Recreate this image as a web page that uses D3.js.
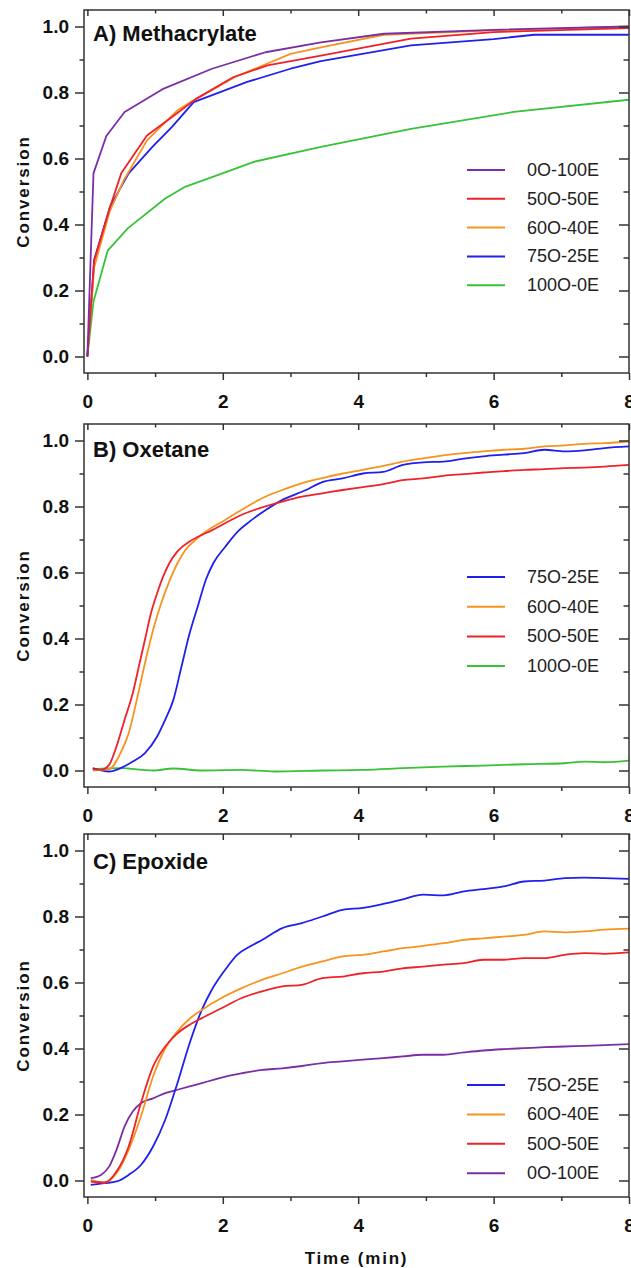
<!DOCTYPE html>
<html>
<head>
<meta charset="utf-8">
<script src="https://cdn.jsdelivr.net/npm/d3@7"></script>
<style>
  html, body { margin: 0; padding: 0; background: #fff; }
  svg { display: block; }
  text { font-family: "Liberation Sans", Arial, sans-serif; }
</style>
</head>
<body>
<svg id="chart" width="631" height="1268"></svg>
<script>
// ---- Data: conversion vs. time (min) ----
const xTickValues = [0, 1, 2, 3, 4, 5, 6, 7, 8];
const xTickLabels = ["0", "", "2", "", "4", "", "6", "", "8"];
const yTickValues = [0, 0.1, 0.2, 0.3, 0.4, 0.5, 0.6, 0.7, 0.8, 0.9, 1.0];
const yTickLabels = ["0.0", "", "0.2", "", "0.4", "", "0.6", "", "0.8", "", "1.0"];

// A) Methacrylate
const methSeriesNames = ["0O-100E", "50O-50E", "60O-40E", "75O-25E", "100O-0E"];
const meth0O100E = [[0,0],[0.09,0.555],[0.28,0.668],[0.55,0.741],[1.11,0.81],[1.84,0.872],[2.63,0.922],[3.45,0.952],[4.38,0.978],[6.0,0.99],[8.0,1.0]];
const meth50O50E = [[0,0],[0.1,0.29],[0.33,0.45],[0.5,0.555],[0.88,0.67],[1.28,0.73],[1.6,0.78],[2.16,0.847],[2.66,0.882],[3.45,0.912],[4.78,0.963],[6.0,0.983],[8.0,0.995]];
const meth60O40E = [[0,0],[0.1,0.27],[0.33,0.44],[0.54,0.535],[0.88,0.655],[1.33,0.746],[1.6,0.78],[2.16,0.845],[3.0,0.917],[3.45,0.937],[4.38,0.975],[6.0,0.988],[8.0,1.0]];
const meth75O25E = [[0,0],[0.1,0.293],[0.335,0.454],[0.61,0.555],[0.96,0.635],[1.25,0.696],[1.57,0.771],[2.36,0.832],[3.0,0.872],[3.45,0.895],[4.78,0.943],[6.0,0.962],[6.6,0.975],[8.0,0.975]];
const meth100O0E = [[0,0],[0.09,0.167],[0.3,0.321],[0.6,0.389],[1.15,0.479],[1.45,0.515],[1.75,0.537],[2.46,0.59],[3.45,0.635],[4.78,0.69],[6.3,0.741],[8.0,0.778]];

// B) Oxetane
const oxSeriesNames = ["75O-25E", "60O-40E", "50O-50E", "100O-0E"];
const ox75O25E = [[0.08,0.007],[0.32,-0.003],[0.49,0.007],[0.67,0.027],[0.85,0.053],[1.03,0.103],[1.15,0.154],[1.27,0.214],[1.39,0.315],[1.51,0.416],[1.63,0.497],[1.75,0.578],[1.86,0.628],[2.04,0.679],[2.22,0.724],[2.4,0.755],[2.64,0.79],[2.88,0.82],[3.23,0.85],[3.47,0.874],[3.77,0.885],[4.07,0.9],[4.37,0.905],[4.66,0.926],[4.96,0.934],[5.26,0.936],[5.56,0.945],[5.85,0.952],[6.15,0.957],[6.45,0.962],[6.75,0.972],[7.05,0.967],[7.34,0.97],[7.64,0.977],[8.0,0.982]];
const ox60O40E = [[0.08,0.0],[0.32,0.004],[0.49,0.053],[0.61,0.113],[0.73,0.214],[0.85,0.325],[0.97,0.426],[1.09,0.507],[1.21,0.573],[1.33,0.628],[1.45,0.669],[1.57,0.694],[1.75,0.724],[2.04,0.76],[2.28,0.79],[2.58,0.825],[2.88,0.85],[3.17,0.871],[3.47,0.886],[3.77,0.9],[4.07,0.911],[4.37,0.923],[4.66,0.936],[4.96,0.946],[5.26,0.955],[5.56,0.962],[5.85,0.967],[6.15,0.972],[6.45,0.975],[6.75,0.982],[7.05,0.985],[7.34,0.99],[7.64,0.992],[8.0,0.997]];
const ox50O50E = [[0.08,0.004],[0.2,0.002],[0.32,0.017],[0.43,0.073],[0.55,0.154],[0.67,0.234],[0.76,0.315],[0.85,0.396],[0.94,0.477],[1.03,0.537],[1.12,0.588],[1.21,0.628],[1.33,0.664],[1.51,0.694],[1.69,0.714],[1.8,0.724],[2.28,0.775],[2.88,0.815],[3.17,0.83],[3.47,0.84],[3.77,0.85],[4.07,0.859],[4.37,0.868],[4.66,0.88],[4.96,0.885],[5.26,0.893],[5.56,0.898],[5.85,0.903],[6.15,0.907],[6.45,0.911],[6.75,0.913],[7.05,0.916],[7.34,0.918],[7.64,0.921],[8.0,0.926]];
const ox100O0E = [[0.08,0.004],[0.49,0.007],[0.97,0.0],[1.27,0.006],[1.69,0.0],[2.28,0.002],[2.76,-0.003],[3.47,0.0],[4.07,0.002],[4.66,0.007],[5.26,0.012],[5.85,0.015],[6.45,0.019],[7.05,0.022],[7.34,0.027],[7.64,0.025],[8.0,0.03]];

// C) Epoxide
const epSeriesNames = ["75O-25E", "60O-40E", "50O-50E", "0O-100E"];
const ep75O25E = [[0.05,-0.013],[0.26,-0.008],[0.43,-0.003],[0.61,0.017],[0.79,0.047],[0.97,0.103],[1.15,0.184],[1.33,0.295],[1.51,0.416],[1.69,0.517],[1.83,0.575],[2.04,0.64],[2.22,0.685],[2.4,0.709],[2.58,0.729],[2.88,0.765],[3.17,0.78],[3.47,0.8],[3.77,0.82],[4.07,0.826],[4.37,0.838],[4.66,0.852],[4.96,0.866],[5.26,0.864],[5.56,0.876],[5.85,0.883],[6.15,0.891],[6.45,0.906],[6.75,0.909],[7.05,0.916],[7.34,0.918],[7.64,0.916],[8.0,0.914]];
const ep60O40E = [[0.05,0.002],[0.26,-0.006],[0.43,0.022],[0.61,0.093],[0.79,0.194],[0.97,0.315],[1.15,0.4],[1.33,0.452],[1.51,0.49],[1.69,0.517],[1.98,0.553],[2.28,0.583],[2.58,0.608],[2.88,0.628],[3.17,0.648],[3.47,0.664],[3.77,0.679],[4.07,0.684],[4.37,0.694],[4.66,0.704],[4.96,0.711],[5.26,0.719],[5.56,0.729],[5.85,0.734],[6.15,0.739],[6.45,0.744],[6.75,0.755],[7.05,0.752],[7.34,0.755],[7.64,0.76],[8.0,0.763]];
const ep50O50E = [[0.05,-0.003],[0.26,-0.006],[0.43,0.027],[0.61,0.103],[0.79,0.234],[0.97,0.345],[1.15,0.406],[1.33,0.446],[1.51,0.472],[1.69,0.492],[1.98,0.522],[2.28,0.553],[2.58,0.573],[2.88,0.588],[3.17,0.593],[3.47,0.613],[3.77,0.618],[4.07,0.628],[4.37,0.633],[4.66,0.643],[4.96,0.648],[5.26,0.654],[5.56,0.659],[5.85,0.669],[6.15,0.669],[6.45,0.674],[6.75,0.674],[7.05,0.684],[7.34,0.689],[7.64,0.687],[8.0,0.691]];
const ep0O100E = [[0.05,0.007],[0.2,0.017],[0.32,0.042],[0.43,0.093],[0.55,0.164],[0.67,0.209],[0.79,0.234],[0.97,0.249],[1.15,0.265],[1.33,0.275],[1.51,0.285],[1.69,0.295],[1.86,0.305],[2.04,0.315],[2.28,0.325],[2.58,0.335],[2.88,0.34],[3.17,0.347],[3.47,0.356],[3.77,0.361],[4.07,0.366],[4.37,0.371],[4.66,0.376],[4.96,0.381],[5.26,0.381],[5.56,0.388],[5.85,0.394],[6.15,0.398],[6.45,0.401],[6.75,0.404],[7.05,0.406],[7.34,0.408],[7.64,0.41],[8.0,0.413]];

// ---- Styling ----
const seriesColor = {
  "0O-100E": "#7a2fa6",
  "50O-50E": "#ee2228",
  "60O-40E": "#f7931e",
  "75O-25E": "#2020ee",
  "100O-0E": "#38c238"
};

const panels = [
  { title: "A) Methacrylate", top: 10, titleDy: 31, names: methSeriesNames,
    series: [meth0O100E, meth50O50E, meth60O40E, meth75O25E, meth100O0E],
    drawOrder: [4, 3, 2, 1, 0], curve: d3.curveLinear,
    legendTop: 170, legendStep: 28.8 },
  { title: "B) Oxetane", top: 424, titleDy: 33, names: oxSeriesNames,
    series: [ox75O25E, ox60O40E, ox50O50E, ox100O0E],
    drawOrder: [3, 0, 1, 2], curve: d3.curveMonotoneX,
    legendTop: 577, legendStep: 29.7 },
  { title: "C) Epoxide", top: 834, titleDy: 35, names: epSeriesNames,
    series: [ep75O25E, ep60O40E, ep50O50E, ep0O100E],
    drawOrder: [3, 0, 1, 2], curve: d3.curveMonotoneX,
    legendTop: 1085, legendStep: 29.4 }
];

const frameLeft = 84, frameRight = 629, panelHeight = 363;
const axisColor = "#333";
const svg = d3.select("#chart");

const x = d3.scaleLinear().domain([-0.05, 8]).range([frameLeft, frameRight]);

panels.forEach((p, pi) => {
  const top = p.top, bottom = p.top + panelHeight;
  const y = d3.scaleLinear().domain([-0.05, 1.05]).range([bottom, top]);
  const g = svg.append("g");

  const clipId = "clip" + pi;
  g.append("clipPath").attr("id", clipId)
    .append("rect").attr("x", frameLeft).attr("y", top)
    .attr("width", frameRight - frameLeft).attr("height", panelHeight);

  // Data lines
  const line = d3.line().x(d => x(d[0])).y(d => y(d[1])).curve(p.curve);
  p.drawOrder.forEach(i => {
    g.append("path")
      .attr("clip-path", `url(#${clipId})`)
      .attr("d", line(p.series[i]))
      .attr("fill", "none")
      .attr("stroke", seriesColor[p.names[i]])
      .attr("stroke-width", 1.8)
      .attr("stroke-linejoin", "round");
  });

  // Bottom axis (outward ticks, labels at even minutes)
  const bottomAxis = g.append("g").attr("transform", `translate(0,${bottom})`)
    .call(d3.axisBottom(x).tickValues(xTickValues)
      .tickFormat((d, i) => xTickLabels[i]).tickSizeOuter(0).tickPadding(10));
  bottomAxis.selectAll(".tick line")
    .attr("y2", d => d % 2 === 0 ? 7 : 4);
  // Top axis (inward ticks)
  const topAxis = g.append("g").attr("transform", `translate(0,${top})`)
    .call(d3.axisTop(x).tickValues(xTickValues).tickFormat("").tickSizeOuter(0));
  topAxis.selectAll(".tick line").attr("y2", d => d % 2 === 0 ? 6 : 3.5);
  // Left axis (outward ticks)
  const leftAxis = g.append("g").attr("transform", `translate(${frameLeft},0)`)
    .call(d3.axisLeft(y).tickValues(yTickValues)
      .tickFormat((d, i) => yTickLabels[i]).tickSizeOuter(0).tickPadding(6));
  leftAxis.selectAll(".tick line")
    .attr("x2", (d, i) => i % 2 === 0 ? -9 : -4.5);
  leftAxis.selectAll(".tick text").attr("x", -15);
  // Right axis (inward ticks)
  const rightAxis = g.append("g").attr("transform", `translate(${frameRight},0)`)
    .call(d3.axisRight(y).tickValues(yTickValues).tickFormat("").tickSizeOuter(0));
  rightAxis.selectAll(".tick line")
    .attr("x2", (d, i) => i % 2 === 0 ? -10 : -5.5);

  [bottomAxis, topAxis, leftAxis, rightAxis].forEach(ax => {
    ax.select(".domain").remove();
    ax.selectAll(".tick line").attr("stroke", axisColor).attr("stroke-width", 1.5);
    ax.selectAll(".tick text")
      .attr("fill", "#111").attr("font-size", 19).attr("font-weight", "bold")
      .attr("font-family", '"Liberation Sans", Arial, sans-serif');
  });
  bottomAxis.selectAll(".tick text").attr("dy", "1.0em");

  // Frame
  g.append("rect")
    .attr("x", frameLeft).attr("y", top)
    .attr("width", frameRight - frameLeft).attr("height", panelHeight)
    .attr("fill", "none").attr("stroke", axisColor).attr("stroke-width", 1.5);

  // Panel title
  g.append("text")
    .attr("x", 93).attr("y", top + p.titleDy)
    .attr("font-size", 22).attr("font-weight", "bold").attr("fill", "#111")
    .text(p.title);

  // Y axis title
  g.append("text")
    .attr("transform", `translate(23,${(top + bottom) / 2}) rotate(-90)`)
    .attr("text-anchor", "middle").attr("dominant-baseline", "central")
    .attr("font-size", 17).attr("font-weight", "bold").attr("letter-spacing", 1.9)
    .attr("fill", "#111")
    .text("Conversion");

  // Legend
  const legend = g.append("g");
  p.names.forEach((name, i) => {
    const ly = p.legendTop + i * p.legendStep;
    legend.append("line")
      .attr("x1", 467).attr("x2", 505).attr("y1", ly).attr("y2", ly)
      .attr("stroke", seriesColor[name]).attr("stroke-width", 2);
    legend.append("text")
      .attr("x", 527).attr("y", ly).attr("dominant-baseline", "central")
      .attr("font-size", 18).attr("fill", "#222")
      .text(name);
  });

  // X axis title (bottom panel only)
  if (pi === panels.length - 1) {
    g.append("text")
      .attr("x", (frameLeft + frameRight) / 2).attr("y", bottom + 67)
      .attr("text-anchor", "middle")
      .attr("font-size", 17).attr("font-weight", "bold").attr("letter-spacing", 1.8)
      .attr("fill", "#111")
      .text("Time (min)");
  }
});
</script>
</body>
</html>
